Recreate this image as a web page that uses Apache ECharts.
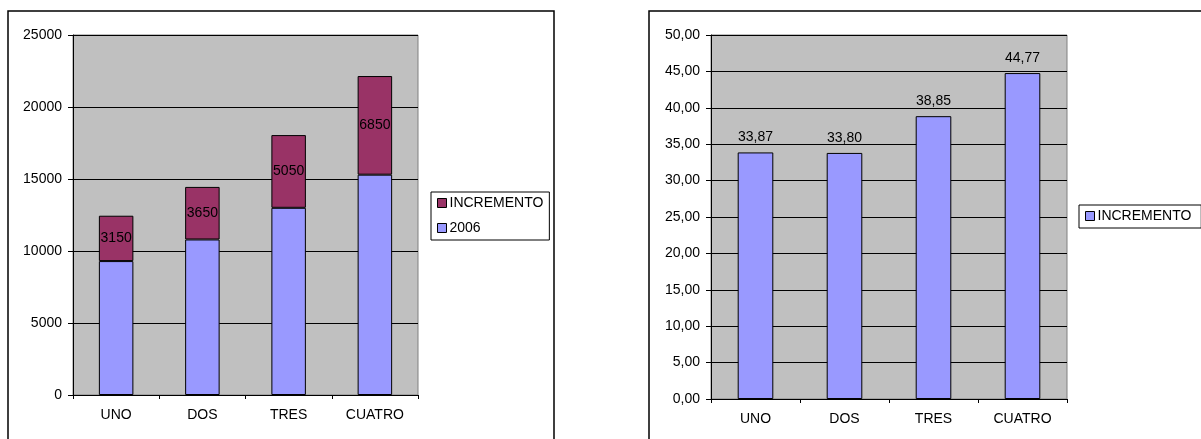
<!DOCTYPE html>
<html>
<head>
<meta charset="utf-8">
<script src="https://cdn.jsdelivr.net/npm/echarts@6/dist/echarts.min.js"></script>
<style>
html,body{margin:0;padding:0;background:#fff;}
#c{width:1201px;height:439px;}
</style>
</head>
<body>
<div id="c"></div>
<script>
const categories = ['UNO', 'DOS', 'TRES', 'CUATRO'];
const base2006 = [9300, 10800, 13000, 15300];
const incremento = [3150, 3650, 5050, 6850];
const pctIncremento = [33.87, 33.80, 38.85, 44.77];
const leftTicks = { min: 0, max: 25000, interval: 5000 };
const rightTicks = { min: 0, max: 50, interval: 5 };

const FONT = "'Liberation Sans', Arial, sans-serif";
const txt = { fontFamily: FONT, fontSize: 14, color: '#000' };
const comma = v => Number(v).toFixed(2).replace('.', ',');

const chart = echarts.init(document.getElementById('c'), null, { renderer: 'canvas' });

function xAxis(gridIndex) {
  return {
    type: 'category', gridIndex, data: categories,
    axisLine: { show: true, lineStyle: { color: '#000', width: 1 } },
    axisTick: { show: true, length: 4, lineStyle: { color: '#000' } },
    axisLabel: Object.assign({ margin: 13 }, txt),
    splitLine: { show: false }
  };
}
function yAxis(gridIndex, t, fmt) {
  return {
    type: 'value', gridIndex, min: t.min, max: t.max, interval: t.interval,
    axisLine: { show: true, lineStyle: { color: '#000', width: 1 } },
    axisTick: { show: true, length: 5, lineStyle: { color: '#000' } },
    axisLabel: Object.assign({ margin: 11, formatter: fmt }, txt),
    splitLine: { show: true, lineStyle: { color: '#000', width: 1 } }
  };
}

chart.setOption({
  animation: false,
  backgroundColor: '#fff',
  textStyle: { fontFamily: FONT },
  graphic: [
    { type: 'rect', z: -10, shape: { x: 8, y: 11, width: 546, height: 600 },
      style: { fill: 'none', stroke: '#000', lineWidth: 1.5 } },
    { type: 'rect', z: -10, shape: { x: 649, y: 11, width: 700, height: 600 },
      style: { fill: 'none', stroke: '#000', lineWidth: 1.5 } }
  ],
  grid: [
    { left: 73, top: 35, width: 345, height: 360, show: true,
      backgroundColor: '#C0C0C0', borderColor: '#808080', borderWidth: 1, containLabel: false },
    { left: 711, top: 35, width: 356, height: 364, show: true,
      backgroundColor: '#C0C0C0', borderColor: '#808080', borderWidth: 1, containLabel: false }
  ],
  legend: [
    { left: 431, top: 192, orient: 'vertical', data: ['INCREMENTO', '2006'],
      backgroundColor: '#fff', borderColor: '#000', borderWidth: 1,
      padding: [4, 6, 5, 6], itemGap: 11, itemWidth: 9, itemHeight: 9,
      icon: 'rect', itemStyle: { borderColor: '#000', borderWidth: 1 },
      textStyle: Object.assign({ padding: [0, 0, 0, -2] }, txt), selectedMode: false },
    { left: 1079, top: 205, orient: 'vertical', data: [{ name: 'INCREMENTO ', itemStyle: { color: '#9999FF' } }],
      backgroundColor: '#fff', borderColor: '#000', borderWidth: 1,
      padding: [4, 6, 5, 6], itemWidth: 9, itemHeight: 9,
      icon: 'rect', itemStyle: { borderColor: '#000', borderWidth: 1 },
      textStyle: Object.assign({ padding: [0, 0, 0, -2] }, txt), selectedMode: false }
  ],
  xAxis: [xAxis(0), xAxis(1)],
  yAxis: [yAxis(0, leftTicks, v => String(v)), yAxis(1, rightTicks, comma)],
  series: [
    { name: '2006', type: 'bar', stack: 'a', xAxisIndex: 0, yAxisIndex: 0, data: base2006,
      barWidth: '40%', itemStyle: { color: '#9999FF', borderColor: '#000', borderWidth: 1 } },
    { name: 'INCREMENTO', type: 'bar', stack: 'a', xAxisIndex: 0, yAxisIndex: 0, data: incremento,
      barWidth: '40%', itemStyle: { color: '#993366', borderColor: '#000', borderWidth: 1 },
      label: Object.assign({ show: true, position: 'inside' }, txt) },
    { name: 'INCREMENTO ', type: 'bar', xAxisIndex: 1, yAxisIndex: 1, data: pctIncremento,
      barWidth: '40%', itemStyle: { color: '#9999FF', borderColor: '#000', borderWidth: 1 },
      label: Object.assign({ show: true, position: 'top', distance: 8, formatter: p => comma(p.value) }, txt) }
  ]
});
</script>
</body>
</html>
